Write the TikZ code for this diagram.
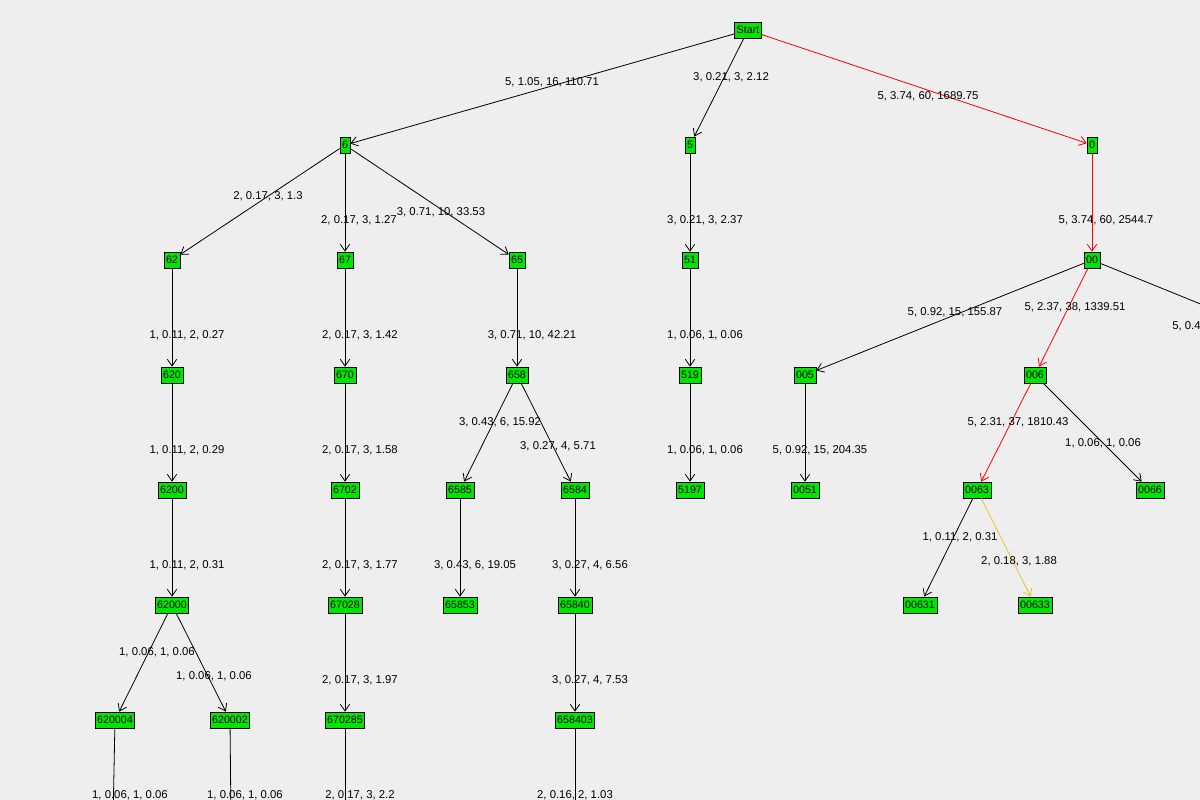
\documentclass[tikz,border=0pt]{standalone}
\usepackage{fontspec}
\setmainfont{Liberation Sans}
\usetikzlibrary{arrows.meta}
\definecolor{bg}{HTML}{EEEEEE}
\definecolor{ng}{HTML}{00E600}
\definecolor{yel}{HTML}{E8C030}
\tikzset{
 tn/.style={draw=black,fill=ng,font=\fontsize{8}{9}\selectfont,inner sep=1.5pt,minimum height=12pt,line width=0.5pt},
 el/.style={font=\fontsize{8.5}{10}\selectfont,inner sep=0pt},
 ed/.style={draw=black,line width=0.6pt,-{Straight Barb[length=5pt,width=7pt]}},
}
\begin{document}
\begin{tikzpicture}[x=0.75pt,y=-0.75pt]
\clip (0,0) rectangle (1200,800);
\fill[bg] (0,0) rectangle (1200,800);
\foreach \n/\x/\y/\t in {st/748/30/Start,a6/345/145/6,a5/690/145/5,a0/1092/145/0,
 a62/172/260/62,a67/345/260/67,a65/517/260/65,a51/690/260/51,a00/1092/260/00,
 a620/172/375/620,a670/345/375/670,a658/517/375/658,a519/690/375/519,a005/805/375/005,a006/1035/375/006,
 a6200/172/490/6200,a6702/345/490/6702,a6585/460/490/6585,a6584/575/490/6584,a5197/690/490/5197,a0051/805/490/0051,a0063/977/490/0063,a0066/1150/490/0066,
 a62000/172/605/62000,a67028/345/605/67028,a65853/460/605/65853,a65840/575/605/65840,a00631/920/605/00631,a00633/1035/605/00633,
 a620004/115/720/620004,a620002/230/720/620002,a670285/345/720/670285,a658403/575/720/658403}
 \node[tn] (\n) at (\x,\y) {\t};
\coordinate (b1) at (113,820); \coordinate (b2) at (231,820); \coordinate (b3) at (345,820); \coordinate (b4) at (575,820);
\coordinate (r1) at (1240,320);
\draw[ed] (st) -- (a6); \draw[ed] (st) -- (a5); \draw[ed,draw=red] (st) -- (a0);
\draw[ed] (a6) -- (a62); \draw[ed] (a6) -- (a67); \draw[ed] (a6) -- (a65);
\draw[ed] (a5) -- (a51); \draw[ed,draw=red] (a0) -- (a00);
\draw[ed] (a62) -- (a620); \draw[ed] (a67) -- (a670); \draw[ed] (a65) -- (a658); \draw[ed] (a51) -- (a519);
\draw[ed] (a00) -- (a005); \draw[ed,draw=red] (a00) -- (a006); \draw[ed] (a00) -- (r1);
\draw[ed] (a620) -- (a6200); \draw[ed] (a670) -- (a6702); \draw[ed] (a658) -- (a6585); \draw[ed] (a658) -- (a6584);
\draw[ed] (a519) -- (a5197); \draw[ed] (a005) -- (a0051); \draw[ed,draw=red] (a006) -- (a0063); \draw[ed] (a006) -- (a0066);
\draw[ed] (a6200) -- (a62000); \draw[ed] (a6702) -- (a67028); \draw[ed] (a6585) -- (a65853); \draw[ed] (a6584) -- (a65840);
\draw[ed] (a0063) -- (a00631); \draw[ed,draw=yel] (a0063) -- (a00633);
\draw[ed] (a62000) -- (a620004); \draw[ed] (a62000) -- (a620002); \draw[ed] (a67028) -- (a670285); \draw[ed] (a65840) -- (a658403);
\draw[ed] (a620004) -- (b1); \draw[ed] (a620002) -- (b2); \draw[ed] (a670285) -- (b3); \draw[ed] (a658403) -- (b4);
\foreach \x/\y/\t [count=\i] in {552/82/{5, 1.05, 16, 110.71},731/77/{3, 0.21, 3, 2.12},928/96/{5, 3.74, 60, 1689.75},
 268/196/{2, 0.17, 3, 1.3},359/220/{2, 0.17, 3, 1.27},441/212/{3, 0.71, 10, 33.53},705/220/{3, 0.21, 3, 2.37},1106/220/{5, 3.74, 60, 2544.7},
 187/335/{1, 0.11, 2, 0.27},360/335/{2, 0.17, 3, 1.42},532/335/{3, 0.71, 10, 42.21},705/335/{1, 0.06, 1, 0.06},955/312/{5, 0.92, 15, 155.87},1075/307/{5, 2.37, 38, 1339.51},
 187/450/{1, 0.11, 2, 0.29},360/450/{2, 0.17, 3, 1.58},500/422/{3, 0.43, 6, 15.92},558/446/{3, 0.27, 4, 5.71},705/450/{1, 0.06, 1, 0.06},820/450/{5, 0.92, 15, 204.35},1018/422/{5, 2.31, 37, 1810.43},1103/443/{1, 0.06, 1, 0.06},
 187/565/{1, 0.11, 2, 0.31},360/565/{2, 0.17, 3, 1.77},475/565/{3, 0.43, 6, 19.05},590/565/{3, 0.27, 4, 6.56},960/537/{1, 0.11, 2, 0.31},1019/561/{2, 0.18, 3, 1.88},
 157/652/{1, 0.06, 1, 0.06},214/676/{1, 0.06, 1, 0.06},360/680/{2, 0.17, 3, 1.97},590/680/{3, 0.27, 4, 7.53},
 130/795/{1, 0.06, 1, 0.06},245/795/{1, 0.06, 1, 0.06},360/795/{2, 0.17, 3, 2.2},575/795/{2, 0.16, 2, 1.03}}
 \node[el] (l\i) at (\x,\y) {\t};
\node[el,anchor=west] (lr) at (1172,326) {5, 0.4};
\end{tikzpicture}
\end{document}
